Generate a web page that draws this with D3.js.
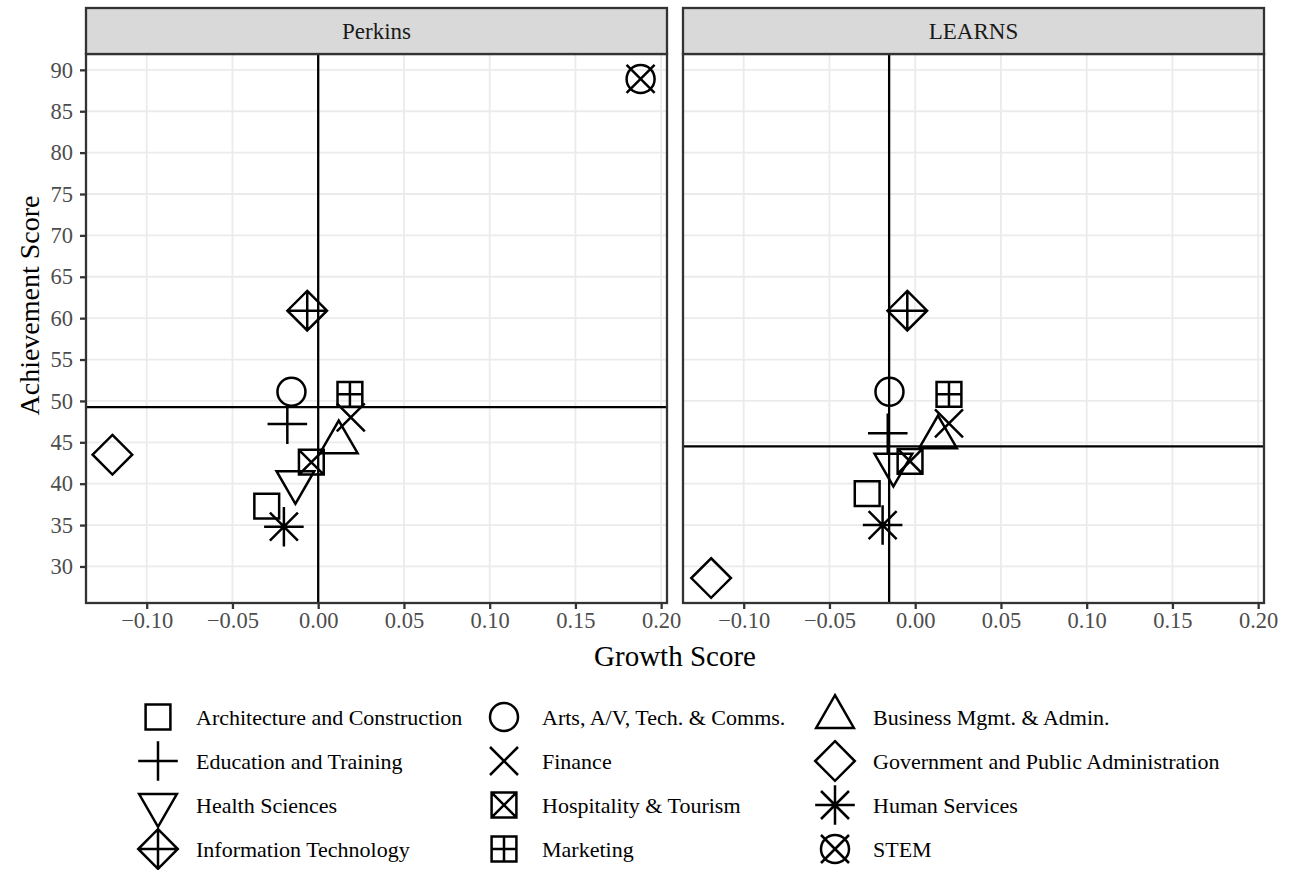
<!DOCTYPE html>
<html>
<head>
<meta charset="utf-8">
<script src="https://cdn.jsdelivr.net/npm/d3@7"></script>
<style>
  body { margin: 0; background: #fff; }
  svg text { font-family: "Liberation Serif", "Times New Roman", serif; }
</style>
</head>
<body>
<svg id="chart" width="1297" height="870"></svg>
<script>
// career clusters, in legend order (filled row by row)
const categories = [
    "Architecture and Construction", "Arts, A/V, Tech. & Comms.", "Business Mgmt. & Admin.",
    "Education and Training", "Finance", "Government and Public Administration",
    "Health Sciences", "Hospitality & Tourism", "Human Services",
    "Information Technology", "Marketing", "STEM"
];
const panels = ["Perkins", "LEARNS"];

const perkinsGrowth = [-0.030, -0.0156, 0.012, -0.018, 0.019, -0.120, -0.0133, -0.004, -0.020, -0.0064, 0.0185, 0.188];
const perkinsAchievement = [37.3, 51.1, 45.0, 47.2, 48.0, 43.5, 40.2, 42.6, 34.8, 60.9, 50.8, 88.9];
const learnsGrowth = [-0.028, -0.015, 0.0133, -0.016, 0.0197, -0.119, -0.0127, -0.003, -0.019, -0.0046, 0.0197, null];
const learnsAchievement = [38.8, 51.1, 45.6, 46.1, 47.3, 28.6, 42.3, 42.7, 35.0, 60.9, 50.8, null];

// reference lines per panel
const refGrowth = [0.0, -0.0152];
const refAchievement = [49.25, 44.5];

const xTicks = [-0.10, -0.05, 0.00, 0.05, 0.10, 0.15, 0.20];
const yTicks = [30, 35, 40, 45, 50, 55, 60, 65, 70, 75, 80, 85, 90];

const shapeNames = ["square", "circle", "triangle", "plus", "cross", "diamond",
    "triangleDown", "squareCross", "asterisk", "diamondPlus", "squarePlus", "circleCross"];

const svg = d3.select("#chart"),
    panelW = 581,
    panelLeft = [86, 683],
    stripTop = 8,
    stripH = 46,
    panelTop = 54,
    panelBottom = 603,
    R = 14,
    lw = 2.5;

const growthSeries = [perkinsGrowth, learnsGrowth],
    achSeries = [perkinsAchievement, learnsAchievement];

// ggplot style 5% expansion on the pooled data
const allX = perkinsGrowth.concat(learnsGrowth).filter(function (v) { return v !== null; }),
    allY = perkinsAchievement.concat(learnsAchievement).filter(function (v) { return v !== null; });
const xExt = d3.extent(allX), yExt = d3.extent(allY);
const xPad = (xExt[1] - xExt[0]) * 0.05, yPad = (yExt[1] - yExt[0]) * 0.05;

const y = d3.scaleLinear()
    .domain([yExt[0] - yPad, yExt[1] + yPad])
    .range([panelBottom, panelTop]);

const shapeScale = d3.scaleOrdinal().domain(categories).range(shapeNames);

function shapePath(name) {
    const p = d3.path(),
        s = R * 0.886,
        d = R * Math.SQRT2,
        tr = R * 1.555,
        tw = R * 1.3468;
    function line(x1, y1, x2, y2) { p.moveTo(x1, y1); p.lineTo(x2, y2); }
    function diamond(h) { p.moveTo(0, -h); p.lineTo(h, 0); p.lineTo(0, h); p.lineTo(-h, 0); p.closePath(); }
    switch (name) {
        case "square": p.rect(-s, -s, 2 * s, 2 * s); break;
        case "circle": p.arc(0, 0, R, 0, 2 * Math.PI); break;
        case "triangle":
            p.moveTo(0, -tr); p.lineTo(tw, tr / 2); p.lineTo(-tw, tr / 2); p.closePath(); break;
        case "triangleDown":
            p.moveTo(0, tr); p.lineTo(tw, -tr / 2); p.lineTo(-tw, -tr / 2); p.closePath(); break;
        case "plus": line(-d, 0, d, 0); line(0, -d, 0, d); break;
        case "cross": line(-R, -R, R, R); line(-R, R, R, -R); break;
        case "diamond": diamond(d); break;
        case "squareCross":
            p.rect(-s, -s, 2 * s, 2 * s); line(-s, -s, s, s); line(-s, s, s, -s); break;
        case "asterisk":
            line(-R, -R, R, R); line(-R, R, R, -R); line(-d, 0, d, 0); line(0, -d, 0, d); break;
        case "diamondPlus":
            diamond(d); line(-d, 0, d, 0); line(0, -d, 0, d); break;
        case "squarePlus":
            p.rect(-s, -s, 2 * s, 2 * s); line(-s, 0, s, 0); line(0, -s, 0, s); break;
        case "circleCross":
            p.moveTo(R, 0); p.arc(0, 0, R, 0, 2 * Math.PI); line(-R, -R, R, R); line(-R, R, R, -R); break;
    }
    return p.toString();
}

const fmt = d3.format(".2f");

panels.forEach(function (name, pi) {
    const x0 = panelLeft[pi];
    const x = d3.scaleLinear()
        .domain([xExt[0] - xPad, xExt[1] + xPad])
        .range([x0, x0 + panelW]);

    const g = svg.append("g").attr("class", "panel");

    // grid
    g.append("g").selectAll("line.vg").data(xTicks).enter().append("line")
        .attr("x1", function (d) { return x(d); }).attr("x2", function (d) { return x(d); })
        .attr("y1", panelTop).attr("y2", panelBottom)
        .attr("stroke", "#ebebeb").attr("stroke-width", 1.8);
    g.append("g").selectAll("line.hg").data(yTicks).enter().append("line")
        .attr("x1", x0).attr("x2", x0 + panelW)
        .attr("y1", function (d) { return y(d); }).attr("y2", function (d) { return y(d); })
        .attr("stroke", "#ebebeb").attr("stroke-width", 1.8);

    // reference lines
    g.append("line")
        .attr("x1", x(refGrowth[pi])).attr("x2", x(refGrowth[pi]))
        .attr("y1", panelTop).attr("y2", panelBottom)
        .attr("stroke", "#000").attr("stroke-width", 2.3);
    g.append("line")
        .attr("x1", x0).attr("x2", x0 + panelW)
        .attr("y1", y(refAchievement[pi])).attr("y2", y(refAchievement[pi]))
        .attr("stroke", "#000").attr("stroke-width", 2.3);

    // points
    const pts = categories.map(function (c, i) {
        return { cat: c, gx: growthSeries[pi][i], ay: achSeries[pi][i] };
    }).filter(function (d) { return d.gx !== null && d.ay !== null; });

    g.append("g").selectAll("path").data(pts).enter().append("path")
        .attr("transform", function (d) { return "translate(" + x(d.gx) + "," + y(d.ay) + ")"; })
        .attr("d", function (d) { return shapePath(shapeScale(d.cat)); })
        .attr("fill", "none").attr("stroke", "#000").attr("stroke-width", lw);

    // panel border
    g.append("rect")
        .attr("x", x0).attr("y", panelTop).attr("width", panelW).attr("height", panelBottom - panelTop)
        .attr("fill", "none").attr("stroke", "#333333").attr("stroke-width", 2.3);

    // strip
    g.append("rect")
        .attr("x", x0).attr("y", stripTop).attr("width", panelW).attr("height", stripH)
        .attr("fill", "#d9d9d9").attr("stroke", "#333333").attr("stroke-width", 2.3);
    g.append("text")
        .attr("x", x0 + panelW / 2).attr("y", stripTop + stripH / 2 + 8)
        .attr("text-anchor", "middle").attr("font-size", 23).attr("fill", "#1a1a1a")
        .text(name);

    // x axis
    const xAxis = g.append("g")
        .attr("transform", "translate(0," + panelBottom + ")")
        .call(d3.axisBottom(x).tickValues(xTicks).tickFormat(fmt).tickSize(6).tickPadding(3));
    xAxis.select(".domain").remove();
    xAxis.selectAll(".tick line").attr("stroke", "#333333").attr("stroke-width", 2.3);
    xAxis.selectAll(".tick text").attr("font-size", 22.5).attr("fill", "#4d4d4d")
        .attr("font-family", "Liberation Serif");

    if (pi === 0) {
        const yAxis = g.append("g")
            .attr("transform", "translate(" + x0 + ",0)")
            .call(d3.axisLeft(y).tickValues(yTicks).tickSize(6).tickPadding(7));
        yAxis.select(".domain").remove();
        yAxis.selectAll(".tick line").attr("stroke", "#333333").attr("stroke-width", 2.3);
        yAxis.selectAll(".tick text").attr("font-size", 22.5).attr("fill", "#4d4d4d")
            .attr("font-family", "Liberation Serif");
    }
});

// axis titles
svg.append("text")
    .attr("x", (panelLeft[0] + panelLeft[1] + panelW) / 2).attr("y", 666)
    .attr("text-anchor", "middle").attr("font-size", 29).attr("fill", "#000")
    .text("Growth Score");
svg.append("text")
    .attr("transform", "translate(39," + ((stripTop + panelBottom) / 2) + ") rotate(-90)")
    .attr("text-anchor", "middle").attr("font-size", 28).attr("fill", "#000")
    .text("Achievement Score");

// legend, 3 columns filled by row
const legendColX = [158, 504, 835],
    legendRowY = [717, 761, 805, 849];

const legend = svg.append("g").selectAll("g").data(categories).enter().append("g")
    .attr("transform", function (d, i) {
        return "translate(" + legendColX[i % 3] + "," + legendRowY[Math.floor(i / 3)] + ")";
    });
legend.append("path")
    .attr("d", function (d) { return shapePath(shapeScale(d)); })
    .attr("fill", "none").attr("stroke", "#000").attr("stroke-width", lw);
legend.append("text")
    .attr("x", 38).attr("y", 7.5)
    .attr("font-size", 22).attr("fill", "#000")
    .text(function (d) { return d; });
</script>
</body>
</html>
